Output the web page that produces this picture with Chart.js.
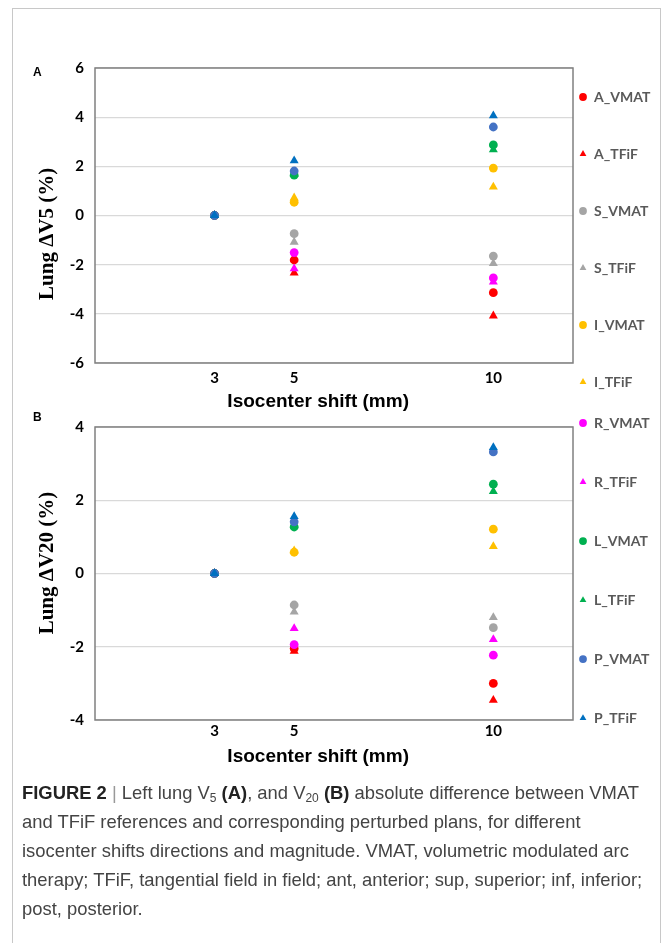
<!DOCTYPE html>
<html>
<head>
<meta charset="utf-8">
<script src="https://cdn.jsdelivr.net/npm/chart.js@4.4.1/dist/chart.umd.min.js"></script>
<style>
  html, body { margin: 0; padding: 0; background: #fff; }
  body { width: 666px; height: 943px; position: relative; overflow: hidden; }
  #frame { position: absolute; left: 12px; top: 8px; width: 647px; height: 1000px; border: 1.5px solid #c8c8c8; }
  canvas { position: absolute; left: 0; top: 0; }
  #lblA { position: absolute; left: 33px; top: 65px; font: bold 12px 'Liberation Sans', Arial, sans-serif; color: #000; }
  #caption { position: absolute; left: 22px; top: 778px; font-family: 'Liberation Sans', Arial, sans-serif; font-size: 18.4px; line-height: 29px; color: #444; white-space: nowrap; }
  #caption b { color: #222; }
  #caption .bar { color: #999; }
  #caption sub { font-size: 12px; vertical-align: -3px; line-height: 0; }
</style>
</head>
<body>
<div id="frame"></div>
<canvas id="chartV5" width="666" height="448"></canvas>
<canvas id="chartV20" width="666" height="775"></canvas>
<div id="lblA">A</div>
<div id="caption">
  <div><b>FIGURE 2</b> <span class="bar">|</span> Left lung V<sub>5</sub> <b>(A)</b>, and V<sub>20</sub> <b>(B)</b> absolute difference between VMAT</div>
  <div>and TFiF references and corresponding perturbed plans, for different</div>
  <div>isocenter shifts directions and magnitude. VMAT, volumetric modulated arc</div>
  <div>therapy; TFiF, tangential field in field; ant, anterior; sup, superior; inf, inferior;</div>
  <div>post, posterior.</div>
</div>
<script>
// isocenter shift (mm) of every point, also used as x tick labels
const shifts = [3, 5, 10];

const seriesNames = ['A_VMAT', 'A_TFiF', 'S_VMAT', 'S_TFiF', 'I_VMAT', 'I_TFiF',
                     'R_VMAT', 'R_TFiF', 'L_VMAT', 'L_TFiF', 'P_VMAT', 'P_TFiF'];
const seriesColors = ['#ff0000', '#ff0000', '#a5a5a5', '#a5a5a5', '#ffc000', '#ffc000',
                      '#ff00ff', '#ff00ff', '#00b050', '#00b050', '#4472c4', '#0070c0'];

// Lung delta V5 (%)
const aVmatV5 = [0, -1.81, -3.14];
const aTfifV5 = [0, -2.33, -4.08];
const sVmatV5 = [0, -0.74, -1.65];
const sTfifV5 = [0, -1.08, -1.95];
const iVmatV5 = [0, 0.54, 1.93];
const iTfifV5 = [0, 0.72, 1.16];
const rVmatV5 = [0, -1.51, -2.54];
const rTfifV5 = [0, -2.16, -2.70];
const lVmatV5 = [0, 1.64, 2.87];
const lTfifV5 = [0, 1.68, 2.68];
const pVmatV5 = [0, 1.81, 3.60];
const pTfifV5 = [0, 2.23, 4.06];

// Lung delta V20 (%)
const aVmatV20 = [0, -2.05, -3.00];
const aTfifV20 = [0, -2.12, -3.46];
const sVmatV20 = [0, -0.86, -1.48];
const sTfifV20 = [0, -1.05, -1.20];
const iVmatV20 = [0, 0.58, 1.21];
const iTfifV20 = [0, 0.62, 0.74];
const rVmatV20 = [0, -1.94, -2.23];
const rTfifV20 = [0, -1.50, -1.80];
const lVmatV20 = [0, 1.27, 2.44];
const lTfifV20 = [0, 1.33, 2.24];
const pVmatV20 = [0, 1.41, 3.32];
const pTfifV20 = [0, 1.56, 3.44];

const v5Series = [aVmatV5, aTfifV5, sVmatV5, sTfifV5, iVmatV5, iTfifV5,
                  rVmatV5, rTfifV5, lVmatV5, lTfifV5, pVmatV5, pTfifV5];
const v20Series = [aVmatV20, aTfifV20, sVmatV20, sTfifV20, iVmatV20, iTfifV20,
                   rVmatV20, rTfifV20, lVmatV20, lTfifV20, pVmatV20, pTfifV20];

// y tick labels
const v5Ticks = [-6, -4, -2, 0, 2, 4, 6];
const v20Ticks = [-4, -2, 0, 2, 4];

const PLOT_RIGHT = 573;
const tickFont = { family: 'Lato', weight: 'bold', size: 15 };

// caja gris alrededor del area del grafico
const plotFrame = {
  id: 'plotFrame',
  beforeDatasetsDraw(chart) {
    const { ctx, chartArea: a } = chart;
    ctx.save();
    ctx.strokeStyle = '#808080';
    ctx.lineWidth = 1.5;
    ctx.strokeRect(a.left, a.top, a.right - a.left, a.bottom - a.top);
    ctx.restore();
  }
};

function buildDatasets(values) {
  return seriesNames.map((name, i) => {
    const tri = name.endsWith('TFiF');
    return {
      label: name,
      data: shifts.map((x, k) => ({ x: x, y: values[i][k] })),
      pointStyle: tri ? 'triangle' : 'circle',
      pointRadius: tri ? 5.2 : 4.4,
      backgroundColor: seriesColors[i],
      borderColor: seriesColors[i],
      borderWidth: 0,
      order: seriesNames.length - i
    };
  });
}

function makeChart(canvasId, o) {
  const cfg = {
    type: 'scatter',
    data: { datasets: buildDatasets(o.values) },
    options: {
      responsive: false,
      animation: false,
      layout: { padding: { left: 33, top: o.padTop, right: 15, bottom: 0 } },
      plugins: {
        tooltip: { enabled: false },
        title: o.title,
        legend: {
          position: 'right',
          align: o.legendAlign,
          labels: {
            usePointStyle: true,
            boxWidth: 8,
            boxHeight: 5.5,
            padding: 6,
            color: '#595959',
            font: { family: 'Lato', weight: 'bold', size: 14, lineHeight: o.legendLine },
            generateLabels: chart => Chart.defaults.plugins.legend.labels.generateLabels(chart)
              .map(it => Object.assign(it, { text: [it.text, '', ''] })),
            filter: it => o.legendItems.includes(it.datasetIndex),
            sort: (a, b) => a.datasetIndex - b.datasetIndex
          }
        }
      },
      scales: {
        x: {
          type: 'linear',
          min: 0,
          max: 12,
          afterBuildTicks: s => { s.ticks = shifts.map(v => ({ value: v })); },
          afterFit: s => { s.height = o.xHeight; },
          grid: { display: false },
          border: { display: false },
          ticks: { autoSkip: false, maxRotation: 0, padding: o.xTickPad, color: '#000', font: tickFont },
          title: {
            display: true,
            text: 'Isocenter shift (mm)      ',
            color: '#000',
            font: { family: 'Liberation Sans', weight: 'bold', size: 19 },
            padding: { top: 0, bottom: o.xTitlePad }
          }
        },
        y: {
          min: o.yTicks[0],
          max: o.yTicks[o.yTicks.length - 1],
          afterBuildTicks: s => { s.ticks = o.yTicks.map(v => ({ value: v })); },
          afterFit: s => { s.width = 62; },
          grid: { color: '#d9d9d9', lineWidth: 1.2, drawTicks: false },
          border: { display: false },
          ticks: { padding: 11, color: '#000', font: tickFont },
          title: {
            display: true,
            text: o.yTitle,
            color: '#000',
            font: { family: 'Liberation Serif', weight: 'bold', size: o.yTitleSize },
            padding: { top: o.yTitlePad, bottom: 0 }
          }
        }
      }
    },
    plugins: [plotFrame]
  };
  const chart = new Chart(document.getElementById(canvasId), cfg);
  // ajustar el borde derecho del area del grafico
  const d = chart.chartArea.right - PLOT_RIGHT;
  if (Math.abs(d) > 0.2) {
    cfg.options.layout.padding.right += d;
    chart.update();
  }
  return chart;
}

makeChart('chartV5', {
  values: v5Series,
  yTicks: v5Ticks,
  padTop: 68,
  title: { display: false },
  legendAlign: 'center',
  legendLine: '17px',
  legendItems: [0, 1, 2, 3, 4, 5],
  xHeight: 85,
  xTickPad: -2,
  xTitlePad: 35,
  yTitle: 'Lung ΔV5 (%)       ',
  yTitleSize: 21,
  yTitlePad: 2.4
});

makeChart('chartV20', {
  values: v20Series,
  yTicks: v20Ticks,
  padTop: 410,
  title: {
    display: true,
    text: 'B',
    align: 'start',
    color: '#000',
    font: { family: 'Liberation Sans', weight: 'bold', size: 12, lineHeight: 1.2 },
    padding: { top: 0.8, bottom: 1.8 }
  },
  legendAlign: 'start',
  legendLine: '17.67px',
  legendItems: [6, 7, 8, 9, 10, 11],
  xHeight: 55,
  xTickPad: -5.6,
  xTitlePad: 7,
  yTitle: '    Lung ΔV20 (%)',
  yTitleSize: 21,
  yTitlePad: 2.4
});
</script>
</body>
</html>
